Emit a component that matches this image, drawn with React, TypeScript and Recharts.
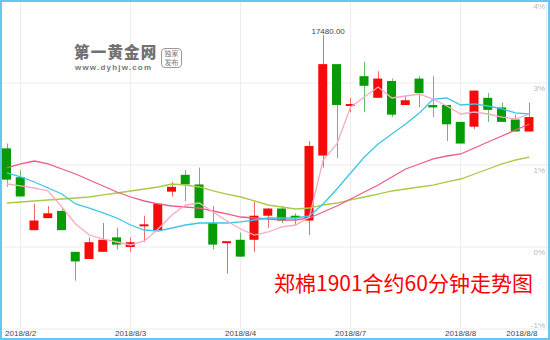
import React from "react";
import {
  ComposedChart,
  Bar,
  Line,
  XAxis,
  YAxis,
  CartesianGrid,
  ReferenceDot,
} from "recharts";

// 60-minute bars, 2018/8/1 night .. 2018/8/8
const times = [
  "2018/8/1 23:00",
  "2018/8/2 09:00", "2018/8/2 10:00", "2018/8/2 11:00", "2018/8/2 13:30",
  "2018/8/2 14:30", "2018/8/2 21:00", "2018/8/2 22:00", "2018/8/2 23:00",
  "2018/8/3 09:00", "2018/8/3 10:00", "2018/8/3 11:00", "2018/8/3 13:30",
  "2018/8/3 14:30", "2018/8/3 21:00", "2018/8/3 22:00", "2018/8/3 23:00",
  "2018/8/4 09:00", "2018/8/4 10:00", "2018/8/4 11:00", "2018/8/4 13:30",
  "2018/8/4 14:30", "2018/8/4 21:00", "2018/8/4 22:00", "2018/8/4 23:00",
  "2018/8/7 09:00", "2018/8/7 10:00", "2018/8/7 11:00", "2018/8/7 13:30",
  "2018/8/7 14:30", "2018/8/7 21:00", "2018/8/7 22:00", "2018/8/7 23:00",
  "2018/8/8 09:00", "2018/8/8 10:00", "2018/8/8 11:00", "2018/8/8 13:30",
  "2018/8/8 14:30", "2018/8/8 21:00", "2018/8/8 22:00",
];

const opens = [
  17245, 17185, 17075, 17100, 17115, 17030, 17015, 17030, 17060, 17040,
  17085, 17075, 17155, 17190, 17170, 17090, 17050, 17055, 17055, 17105,
  17120, 17105, 17095, 17230, 17420, 17335, 17395, 17350, 17385, 17335,
  17390, 17335, 17335, 17300, 17290, 17350, 17330, 17305, 17280,
];
const highs = [
  17255, 17200, 17130, 17125, 17120, 17030, 17060, 17090, 17080, 17060,
  17105, 17130, 17175, 17200, 17205, 17125, 17050, 17070, 17135, 17120,
  17125, 17110, 17260, 17480, 17420, 17350, 17425, 17405, 17390, 17355,
  17395, 17395, 17335, 17300, 17365, 17360, 17340, 17315, 17340,
];
const lows = [
  17165, 17145, 17075, 17100, 17075, 16970, 17015, 17030, 17035, 17030,
  17050, 17075, 17145, 17135, 17100, 17035, 16985, 17020, 17030, 17080,
  17090, 17085, 17065, 17205, 17225, 17320, 17320, 17350, 17310, 17335,
  17330, 17310, 17260, 17255, 17285, 17300, 17300, 17280, 17280,
];
const closes = [
  17180, 17145, 17095, 17110, 17075, 17010, 17050, 17055, 17045, 17050,
  17085, 17130, 17165, 17170, 17100, 17045, 17050, 17020, 17105, 17120,
  17095, 17100, 17250, 17420, 17335, 17335, 17375, 17390, 17315, 17345,
  17360, 17330, 17295, 17255, 17365, 17325, 17300, 17280, 17310,
];

const ma5 = [
  17170.9, 17166.8, 17162.6, 17156.4, 17123.1, 17087.8, 17064.9, 17056.6, 17050.4, 17044.2,
  17052.5, 17077.4, 17106.5, 17127.3, 17131.4, 17112.7, 17094.0, 17077.4, 17064.9, 17071.2,
  17081.6, 17085.7, 17102.3, 17220.8, 17254.0, 17330.9, 17351.7, 17372.5, 17349.6, 17353.8,
  17357.9, 17347.5, 17333.0, 17316.4, 17320.5, 17316.4, 17310.1, 17306.0, 17316.4,
];
const ma10 = [
  17193.8, 17185.5, 17175.1, 17162.6, 17150.1, 17129.4, 17121.0, 17110.7, 17100.3, 17085.7,
  17075.3, 17073.2, 17079.5, 17085.7, 17089.9, 17089.9, 17089.9, 17092.0, 17096.1, 17100.3,
  17100.3, 17100.3, 17104.4, 17129.4, 17160.5, 17193.8, 17227.0, 17254.0, 17274.8, 17295.6,
  17318.5, 17347.5, 17349.6, 17335.1, 17337.2, 17333.0, 17326.8, 17318.5, 17316.4,
];
const ma20 = [
  17204.2, 17212.5, 17218.7, 17212.5, 17202.1, 17191.7, 17179.2, 17166.8, 17154.3, 17143.9,
  17135.6, 17129.4, 17125.2, 17123.1, 17121.0, 17114.8, 17108.6, 17102.3, 17100.3, 17098.2,
  17096.1, 17096.1, 17100.3, 17112.7, 17125.2, 17139.7, 17154.3, 17168.8, 17185.5, 17202.1,
  17212.5, 17222.9, 17229.1, 17233.3, 17245.7, 17258.2, 17270.7, 17283.1, 17295.6,
];
const ma40 = [
  17131.4, 17133.5, 17135.6, 17137.7, 17139.7, 17141.8, 17143.9, 17148.1, 17152.2, 17156.4,
  17160.5, 17164.7, 17170.9, 17168.8, 17164.7, 17156.4, 17150.1, 17143.9, 17135.6, 17127.3,
  17123.1, 17119.0, 17121.0, 17127.3, 17131.4, 17137.7, 17143.9, 17150.1, 17156.4, 17160.5,
  17164.7, 17168.8, 17175.1, 17181.3, 17191.7, 17202.1, 17212.5, 17220.8, 17227.0,
];

// axis ticks
const gridTimes = [times[1], times[9], times[17], times[25], times[33]];
const labelTimes = [times[1], times[9], times[17], times[25], times[33], times[38]];
const labelTexts = ["2018/8/2", "2018/8/3", "2018/8/4", "2018/8/7", "2018/8/8", "2018/8/8"];
const yTicks = [16869.6, 17040, 17210.4, 17380.8, 17551.2];
const yTickLabels = ["-1%", "0%", "1%", "3%", "4%"];

const peakIndex = 23;
const title = "郑棉1901合约60分钟走势图";

const RED = "#f70a0a";
const RED_WICK = "#f26868";
const GREEN = "#079b07";
const GREEN_WICK = "#62c262";

const data = times.map((t, i) => ({
  t,
  range: i < opens.length ? [lows[i], highs[i]] : null,
  o: opens[i],
  h: highs[i],
  l: lows[i],
  c: closes[i],
  ma5: ma5[i],
  ma10: ma10[i],
  ma20: ma20[i],
  ma40: ma40[i],
}));

const Candle = (props: any) => {
  const { x, y, width, height, payload } = props;
  if (!payload || payload.o == null) return null;
  const { o, h, l, c } = payload;
  const up = c >= o;
  const k = h === l ? 0 : height / (h - l);
  let by = y + (h - Math.max(o, c)) * k;
  let bh = Math.abs(o - c) * k;
  if (bh < 2) {
    by = by - (2 - bh) / 2;
    bh = 2;
  }
  const cx = Math.round(x + width / 2) + 0.5;
  return (
    <g>
      <line x1={cx} x2={cx} y1={y} y2={y + height} stroke={up ? RED_WICK : GREEN_WICK} strokeWidth={1} />
      <rect x={x} y={by} width={width} height={bh} fill={up ? RED : GREEN} />
    </g>
  );
};

const XTick = (props: any) => {
  const { x, y, payload } = props;
  const idx = labelTimes.indexOf(payload.value);
  const last = idx === labelTimes.length - 1;
  return (
    <text
      x={last ? x + 8 : x}
      y={y + 4}
      textAnchor={last ? "end" : "middle"}
      dominantBaseline="central"
      fontSize={8}
      fill="#444"
      fontFamily="'Liberation Sans', Arial, sans-serif"
    >
      {labelTexts[idx]}
    </text>
  );
};

const YTick = (props: any) => {
  const { x, y, payload } = props;
  const idx = yTicks.indexOf(payload.value);
  return (
    <text
      x={x}
      y={idx === 0 ? y - 4 : y + 5}
      textAnchor="end"
      dominantBaseline="central"
      fontSize={8}
      fill="#b8b8b8"
      fontFamily="'Liberation Sans', Arial, sans-serif"
    >
      {yTickLabels[idx]}
    </text>
  );
};

export default function App() {
  return (
    <div style={{ position: "absolute", left: 0, top: 0, width: 550, height: 340, background: "#fff", overflow: "hidden" }}>
      <ComposedChart width={550} height={340} data={data} margin={{ top: 1, right: 0, left: 0, bottom: 0 }}>
        <CartesianGrid stroke="#ececec" verticalValues={gridTimes} />
        <XAxis
          dataKey="t"
          type="category"
          ticks={labelTimes}
          interval={0}
          height={11}
          axisLine={false}
          tickLine={false}
          tickSize={0}
          tickMargin={0}
          tick={<XTick />}
        />
        <YAxis
          type="number"
          domain={[yTicks[0], yTicks[yTicks.length - 1]]}
          ticks={yTicks}
          interval={0}
          orientation="right"
          mirror
          axisLine={false}
          tickLine={false}
          tickSize={0}
          tickMargin={5}
          allowDataOverflow
          tick={<YTick />}
        />
        <Bar dataKey="range" barSize={9} shape={<Candle />} isAnimationActive={false} />
        <Line type="linear" dataKey="ma40" stroke="#a8cb45" strokeWidth={1.3} dot={false} isAnimationActive={false} />
        <Line type="linear" dataKey="ma20" stroke="#ee5a8c" strokeWidth={1.3} dot={false} isAnimationActive={false} />
        <Line type="linear" dataKey="ma10" stroke="#3cc6e6" strokeWidth={1.3} dot={false} isAnimationActive={false} />
        <Line type="linear" dataKey="ma5" stroke="#f8a9c6" strokeWidth={1.3} dot={false} isAnimationActive={false} />
        <ReferenceDot
          x={times[peakIndex]}
          y={highs[peakIndex]}
          r={0}
          fill="none"
          stroke="none"
          label={{ value: highs[peakIndex].toFixed(2), position: "top", offset: 1, dx: 5, fill: "#444", fontSize: 8, fontFamily: "'Liberation Sans', Arial, sans-serif" }}
        />
      </ComposedChart>

      {/* right frame line */}
      <div style={{ position: "absolute", left: 546, top: 0, width: 1, height: 329, background: "#ececec" }} />

      {/* watermark */}
      <div style={{ position: "absolute", left: 74, top: 43, fontFamily: "'Noto Sans CJK SC', sans-serif", fontWeight: 900, fontSize: 15.5, color: "#727272", letterSpacing: 1.2, lineHeight: "17px", height: 17, whiteSpace: "nowrap" }}>
        第一黄金网
      </div>
      <div style={{ position: "absolute", left: 75, top: 64, fontFamily: "'Liberation Sans', Arial, sans-serif", fontWeight: 700, fontSize: 8, color: "#777", letterSpacing: 1.2, lineHeight: "8px", height: 8, whiteSpace: "nowrap" }}>
        www.dyhjw.com
      </div>
      <div style={{ position: "absolute", left: 161, top: 48, width: 21, height: 20, border: "1px solid #999", borderRadius: 4, fontFamily: "'Noto Sans CJK SC', sans-serif", fontSize: 7, color: "#777", lineHeight: "9px", textAlign: "center", boxSizing: "border-box", paddingTop: 0 }}>
        独家<br />发布
      </div>

      {/* title */}
      <div style={{ position: "absolute", left: 274, top: 268, fontFamily: "'Noto Sans CJK SC', sans-serif", fontSize: 21, color: "#ff0000", lineHeight: "28px", whiteSpace: "nowrap" }}>
        {title}
      </div>

      {/* border */}
      <div style={{ position: "absolute", left: 0, top: 0, width: 550, height: 340, border: "2px solid #66c8f2", boxSizing: "border-box", pointerEvents: "none" }} />
    </div>
  );
}
